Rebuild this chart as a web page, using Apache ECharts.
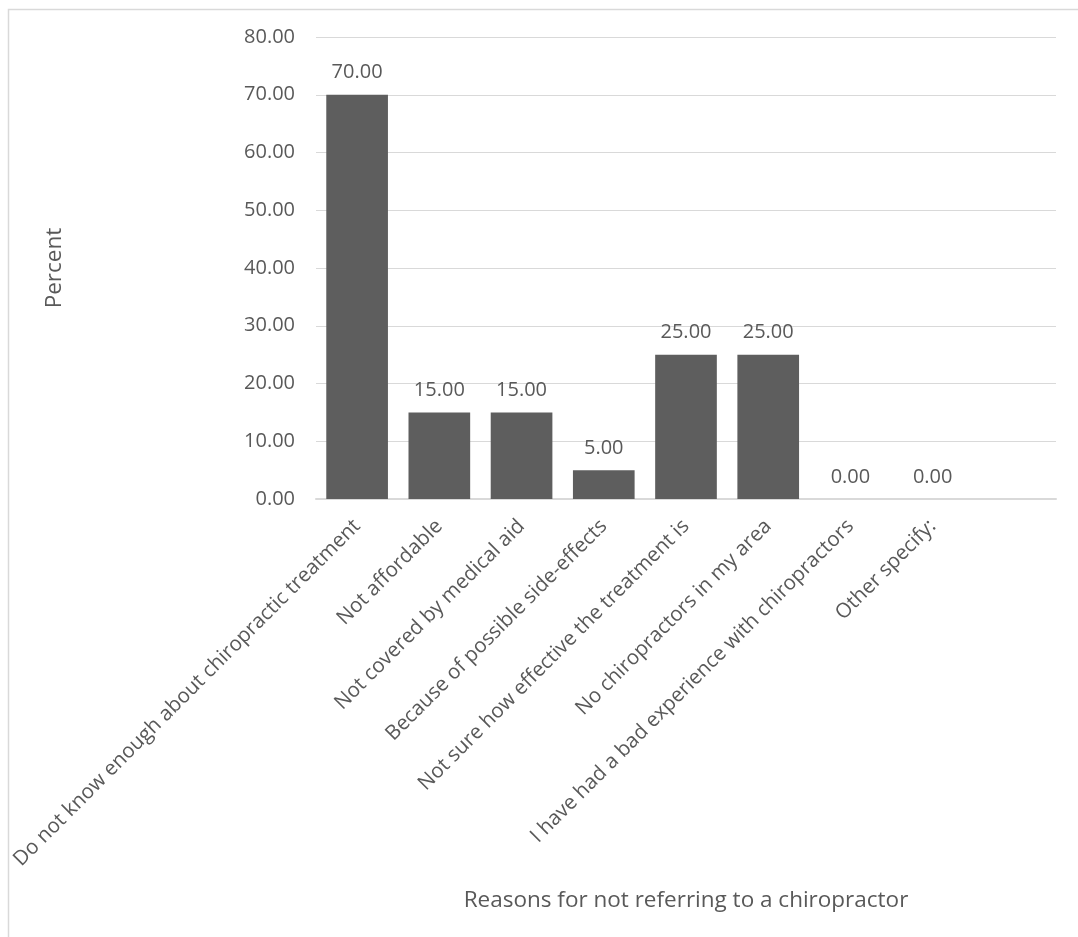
<!DOCTYPE html>
<html>
<head>
<meta charset="utf-8">
<script src="https://cdn.jsdelivr.net/npm/echarts@6/dist/echarts.min.js"></script>
<style>
  html, body { margin: 0; padding: 0; background: #ffffff; }
  #chart { width: 1078px; height: 937px; }
</style>
</head>
<body>
<div id="chart"></div>
<script>
// Reasons given for not referring patients to a chiropractor (percent of respondents)
const categories = [
  'Do not know enough about chiropractic treatment',
  'Not affordable',
  'Not covered by medical aid',
  'Because of possible side-effects',
  'Not sure how effective the treatment is',
  'No chiropractors in my area',
  'I have had a bad experience with chiropractors',
  'Other specify:',
  ''
];
const percentValues = [70, 15, 15, 5, 25, 25, 0, 0, null];
const yTicks = { min: 0, max: 80, interval: 10 };

const textColor = '#595959';
const fontFamily = '"Open Sans", "Liberation Sans", sans-serif';

const chart = echarts.init(document.getElementById('chart'));
chart.setOption({
  animation: false,
  backgroundColor: '#ffffff',
  textStyle: { fontFamily: fontFamily, color: textColor },
  graphic: [{
    type: 'rect',
    shape: { x: 8.5, y: 9.5, width: 1200, height: 1200 },
    style: { fill: 'none', stroke: '#d9d9d9', lineWidth: 1.5 },
    silent: true
  }],
  grid: { left: 316, right: 22, top: 37, bottom: 438, containLabel: false },
  xAxis: {
    type: 'category',
    data: categories,
    name: 'Reasons for not referring to a chiropractor',
    nameLocation: 'middle',
    nameGap: 390,
    nameTextStyle: { fontSize: 22.5, color: textColor, fontFamily: fontFamily },
    axisLine: { show: true, lineStyle: { color: '#d9d9d9', width: 2 } },
    axisTick: { show: false },
    axisLabel: {
      interval: 0,
      rotate: 45,
      margin: 24,
      fontSize: 20.5,
      color: textColor,
      fontFamily: fontFamily
    }
  },
  yAxis: {
    type: 'value',
    min: yTicks.min,
    max: yTicks.max,
    interval: yTicks.interval,
    name: 'Percent',
    nameLocation: 'middle',
    nameRotate: 90,
    nameGap: 250,
    nameTextStyle: { fontSize: 22.5, color: textColor, fontFamily: fontFamily },
    axisLine: { show: false },
    axisTick: { show: false },
    splitLine: { lineStyle: { color: '#d9d9d9', width: 1 } },
    axisLabel: {
      fontSize: 20,
      color: textColor,
      margin: 21,
      fontFamily: fontFamily,
      formatter: v => v.toFixed(2)
    }
  },
  series: [{
    type: 'bar',
    data: percentValues,
    barCategoryGap: '25%',
    itemStyle: { color: '#5e5e5e' },
    label: {
      show: true,
      position: 'top',
      distance: 12,
      fontSize: 20,
      color: textColor,
      fontFamily: fontFamily,
      formatter: p => (p.value == null ? '' : Number(p.value).toFixed(2))
    }
  }]
});
</script>
</body>
</html>
